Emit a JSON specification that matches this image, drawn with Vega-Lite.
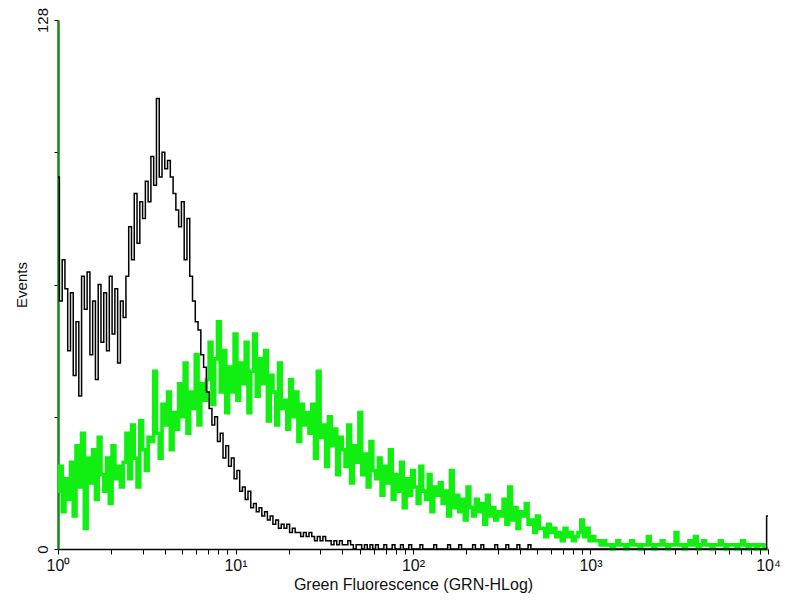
{
"$schema": "https://vega.github.io/schema/vega-lite/v6.json",
"width": 710, "height": 529,
"autosize": "none",
"padding": {"left": 58, "top": 20, "right": 32, "bottom": 51},
"background": "white",
"config": {"view": {"stroke": null}, "font": "Liberation Sans", "axis": {"grid": false}},
"data": {"values": [
{"x":1,"b":90,"g":14},{"x":1.037,"b":60,"g":20},{"x":1.075,"b":70,"g":9},{"x":1.114,"b":63,"g":17},{"x":1.155,"b":48,"g":12},{"x":1.197,"b":62,"g":21},{"x":1.241,"b":42,"g":8},{"x":1.286,"b":55,"g":25},{"x":1.334,"b":37,"g":15},{"x":1.382,"b":66,"g":28},{"x":1.433,"b":58,"g":5},{"x":1.486,"b":67,"g":22},{"x":1.54,"b":47,"g":16},{"x":1.596,"b":60,"g":24},{"x":1.655,"b":41,"g":12},{"x":1.715,"b":64,"g":27},{"x":1.778,"b":50,"g":18},{"x":1.843,"b":62,"g":14},{"x":1.911,"b":48,"g":22},{"x":1.981,"b":66,"g":11},{"x":2.054,"b":52,"g":25},{"x":2.129,"b":63,"g":17},{"x":2.207,"b":45,"g":20},{"x":2.288,"b":60,"g":15},{"x":2.371,"b":56,"g":21},{"x":2.458,"b":66,"g":28},{"x":2.548,"b":78,"g":17},{"x":2.642,"b":70,"g":30},{"x":2.738,"b":86,"g":22},{"x":2.839,"b":74,"g":15},{"x":2.943,"b":84,"g":31},{"x":3.051,"b":80,"g":24},{"x":3.162,"b":89,"g":19},{"x":3.278,"b":84,"g":27},{"x":3.398,"b":95,"g":26},{"x":3.523,"b":88,"g":43},{"x":3.652,"b":109,"g":28},{"x":3.786,"b":90,"g":22},{"x":3.924,"b":96,"g":35},{"x":4.068,"b":92,"g":30},{"x":4.217,"b":94,"g":38},{"x":4.371,"b":90,"g":24},{"x":4.532,"b":86,"g":33},{"x":4.698,"b":82,"g":29},{"x":4.87,"b":78,"g":40},{"x":5.048,"b":84,"g":32},{"x":5.233,"b":70,"g":45},{"x":5.425,"b":80,"g":28},{"x":5.623,"b":66,"g":38},{"x":5.829,"b":60,"g":34},{"x":6.043,"b":55,"g":47},{"x":6.264,"b":53,"g":30},{"x":6.494,"b":47,"g":40},{"x":6.732,"b":44,"g":36},{"x":6.978,"b":38,"g":41},{"x":7.234,"b":34,"g":50},{"x":7.499,"b":30,"g":35},{"x":7.774,"b":32,"g":46},{"x":8.058,"b":26,"g":55},{"x":8.354,"b":28,"g":38},{"x":8.66,"b":22,"g":48},{"x":8.977,"b":25,"g":33},{"x":9.306,"b":20,"g":44},{"x":9.647,"b":22,"g":38},
{"x":10,"b":17,"g":52},{"x":10.37,"b":19,"g":36},{"x":10.75,"b":14,"g":45},{"x":11.14,"b":15,"g":40},{"x":11.55,"b":12,"g":50},{"x":11.97,"b":14,"g":33},{"x":12.41,"b":10,"g":43},{"x":12.86,"b":11,"g":52},{"x":13.34,"b":9,"g":37},{"x":13.82,"b":10,"g":46},{"x":14.33,"b":8,"g":40},{"x":14.86,"b":9,"g":48},{"x":15.4,"b":7,"g":31},{"x":15.96,"b":8,"g":42},{"x":16.55,"b":6,"g":38},{"x":17.15,"b":7,"g":30},{"x":17.78,"b":5,"g":45},{"x":18.43,"b":6,"g":34},{"x":19.11,"b":5,"g":36},{"x":19.81,"b":6,"g":29},{"x":20.54,"b":4,"g":41},{"x":21.29,"b":5,"g":32},{"x":22.07,"b":4,"g":38},{"x":22.88,"b":4,"g":26},{"x":23.71,"b":3,"g":35},{"x":24.58,"b":4,"g":30},{"x":25.48,"b":3,"g":33},{"x":26.42,"b":4,"g":28},{"x":27.38,"b":3,"g":35},{"x":28.39,"b":2,"g":22},{"x":29.43,"b":3,"g":43},{"x":30.51,"b":2,"g":27},{"x":31.62,"b":3,"g":30},{"x":32.78,"b":2,"g":20},{"x":33.98,"b":2,"g":32},{"x":35.23,"b":1,"g":25},{"x":36.52,"b":2,"g":29},{"x":37.86,"b":1,"g":18},{"x":39.24,"b":2,"g":27},{"x":40.68,"b":1,"g":24},{"x":42.17,"b":1,"g":20},{"x":43.71,"b":2,"g":30},{"x":45.32,"b":1,"g":16},{"x":46.98,"b":0,"g":25},{"x":48.7,"b":1,"g":21},{"x":50.48,"b":1,"g":33},{"x":52.33,"b":0,"g":18},{"x":54.25,"b":1,"g":23},{"x":56.23,"b":0,"g":15},{"x":58.29,"b":1,"g":26},{"x":60.43,"b":0,"g":19},{"x":62.64,"b":1,"g":17},{"x":64.94,"b":0,"g":22},{"x":67.32,"b":0,"g":13},{"x":69.78,"b":1,"g":20},{"x":72.34,"b":0,"g":16},{"x":74.99,"b":0,"g":24},{"x":77.74,"b":1,"g":12},{"x":80.58,"b":0,"g":18},{"x":83.54,"b":0,"g":14},{"x":86.6,"b":1,"g":21},{"x":89.77,"b":0,"g":10},{"x":93.06,"b":0,"g":17},{"x":96.47,"b":1,"g":13},
{"x":100,"b":0,"g":19},{"x":103.7,"b":0,"g":15},{"x":107.5,"b":0,"g":11},{"x":111.4,"b":1,"g":20},{"x":115.5,"b":0,"g":14},{"x":119.7,"b":0,"g":12},{"x":124.1,"b":0,"g":18},{"x":128.6,"b":0,"g":9},{"x":133.4,"b":1,"g":15},{"x":138.2,"b":0,"g":13},{"x":143.3,"b":0,"g":16},{"x":148.6,"b":0,"g":11},{"x":154,"b":0,"g":14},{"x":159.6,"b":1,"g":8},{"x":165.5,"b":0,"g":19},{"x":171.5,"b":0,"g":10},{"x":177.8,"b":0,"g":13},{"x":184.3,"b":1,"g":9},{"x":191.1,"b":0,"g":12},{"x":198.1,"b":0,"g":7},{"x":205.4,"b":0,"g":15},{"x":212.9,"b":0,"g":10},{"x":220.7,"b":1,"g":8},{"x":228.8,"b":0,"g":12},{"x":237.1,"b":0,"g":9},{"x":245.8,"b":1,"g":11},{"x":254.8,"b":0,"g":6},{"x":264.2,"b":0,"g":13},{"x":273.8,"b":0,"g":8},{"x":283.9,"b":0,"g":10},{"x":294.3,"b":1,"g":7},{"x":305.1,"b":0,"g":9},{"x":316.2,"b":0,"g":8},{"x":327.8,"b":0,"g":12},{"x":339.8,"b":1,"g":6},{"x":352.3,"b":0,"g":15},{"x":365.2,"b":0,"g":7},{"x":378.6,"b":0,"g":10},{"x":392.4,"b":1,"g":5},{"x":406.8,"b":0,"g":9},{"x":421.7,"b":0,"g":8},{"x":437.1,"b":0,"g":11},{"x":453.2,"b":1,"g":6},{"x":469.8,"b":0,"g":7},{"x":487,"b":0,"g":4},{"x":504.8,"b":0,"g":8},{"x":523.3,"b":0,"g":5},{"x":542.5,"b":0,"g":5},{"x":562.3,"b":0,"g":3},{"x":582.9,"b":0,"g":6},{"x":604.3,"b":0,"g":4},{"x":626.4,"b":0,"g":5},{"x":649.4,"b":0,"g":3},{"x":673.2,"b":0,"g":4},{"x":697.8,"b":0,"g":2},{"x":723.4,"b":0,"g":5},{"x":749.9,"b":0,"g":3},{"x":777.4,"b":0,"g":4},{"x":805.8,"b":0,"g":2},{"x":835.4,"b":0,"g":3},{"x":866,"b":0,"g":4},{"x":897.7,"b":0,"g":7},{"x":930.6,"b":0,"g":3},{"x":964.7,"b":0,"g":5},
{"x":1000,"b":0,"g":2},{"x":1037,"b":0,"g":3},{"x":1075,"b":0,"g":2},{"x":1114,"b":0,"g":2},{"x":1155,"b":0,"g":1},{"x":1197,"b":0,"g":2},{"x":1241,"b":0,"g":1},{"x":1286,"b":0,"g":1},{"x":1334,"b":0,"g":0},{"x":1382,"b":0,"g":1},{"x":1433,"b":0,"g":2},{"x":1486,"b":0,"g":1},{"x":1540,"b":0,"g":1},{"x":1596,"b":0,"g":0},{"x":1655,"b":0,"g":1},{"x":1715,"b":0,"g":2},{"x":1778,"b":0,"g":1},{"x":1843,"b":0,"g":1},{"x":1911,"b":0,"g":0},{"x":1981,"b":0,"g":1},{"x":2054,"b":0,"g":1},{"x":2129,"b":0,"g":3},{"x":2207,"b":0,"g":1},{"x":2288,"b":0,"g":0},{"x":2371,"b":0,"g":1},{"x":2458,"b":0,"g":1},{"x":2548,"b":0,"g":2},{"x":2642,"b":0,"g":1},{"x":2738,"b":0,"g":0},{"x":2839,"b":0,"g":1},{"x":2943,"b":0,"g":1},{"x":3051,"b":0,"g":4},{"x":3162,"b":0,"g":1},{"x":3278,"b":0,"g":1},{"x":3398,"b":0,"g":0},{"x":3523,"b":0,"g":1},{"x":3652,"b":0,"g":2},{"x":3786,"b":0,"g":1},{"x":3924,"b":0,"g":3},{"x":4068,"b":0,"g":0},{"x":4217,"b":0,"g":1},{"x":4371,"b":0,"g":2},{"x":4532,"b":0,"g":1},{"x":4698,"b":0,"g":1},{"x":4870,"b":0,"g":0},{"x":5048,"b":0,"g":1},{"x":5233,"b":0,"g":1},{"x":5425,"b":0,"g":2},{"x":5623,"b":0,"g":1},{"x":5829,"b":0,"g":0},{"x":6043,"b":0,"g":1},{"x":6264,"b":0,"g":1},{"x":6494,"b":0,"g":1},{"x":6732,"b":0,"g":0},{"x":6978,"b":0,"g":1},{"x":7234,"b":0,"g":2},{"x":7499,"b":0,"g":1},{"x":7774,"b":0,"g":0},{"x":8058,"b":0,"g":1},{"x":8354,"b":0,"g":1},{"x":8660,"b":0,"g":0},{"x":8977,"b":0,"g":1},{"x":9306,"b":0,"g":1},{"x":9647,"b":0,"g":0},
{"x":10000,"b":8,"g":0}
]},
"encoding": {
  "x": {"field": "x", "type": "quantitative",
    "scale": {"type": "log", "domain": [1, 10000], "nice": false},
    "axis": {"values": [1,2,3,4,5,6,7,8,9,10,20,30,40,50,60,70,80,90,100,200,300,400,500,600,700,800,900,1000,2000,3000,4000,5000,6000,7000,8000,9000,10000],
      "labelExpr": "datum.value==1?'10⁰':datum.value==10?'10¹':datum.value==100?'10²':datum.value==1000?'10³':datum.value==10000?'10⁴':''",
      "labelOverlap": false, "labelFontSize": 16, "labelColor": "#111", "labelPadding": 3, "labelFlush": false,
      "tickSize": 5, "tickColor": "black", "domainColor": "black", "domainWidth": 1.5,
      "title": "Green Fluorescence (GRN-HLog)", "titleFontSize": 16, "titleFontWeight": "normal", "titleColor": "#111", "titlePadding": 3}}
},
"layer": [
  {"mark": {"type": "line", "interpolate": "step", "color": "#11ee11", "strokeWidth": 3.6},
   "encoding": {"y": {"field": "g", "type": "quantitative",
     "scale": {"domain": [0, 128], "nice": false},
     "axis": {"values": [0, 32, 64, 96, 128], "labelExpr": "datum.value==0||datum.value==128?datum.label:''",
       "labelAngle": -90, "labelFontSize": 15, "labelColor": "#111", "labelPadding": 4,
       "tickSize": 4, "tickColor": "black", "domainColor": "#118811", "domainWidth": 2.5,
       "title": "Events", "titleFontSize": 15, "titleFontWeight": "normal", "titleColor": "#111", "titlePadding": 6}}}},
  {"mark": {"type": "line", "interpolate": "step", "color": "black", "strokeWidth": 1.5},
   "encoding": {"y": {"field": "b", "type": "quantitative", "title": "Events"}}}
]
}
